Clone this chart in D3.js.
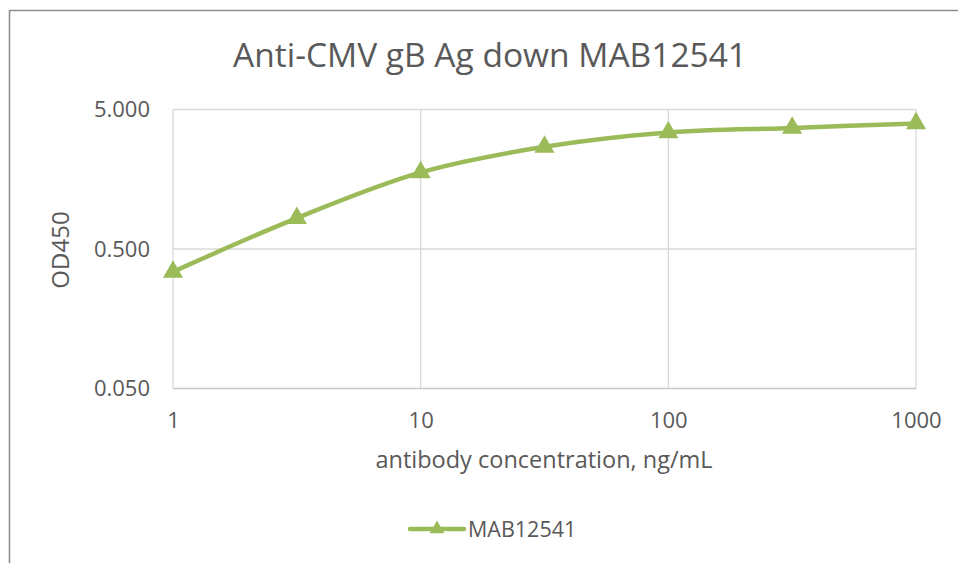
<!DOCTYPE html>
<html>
<head>
<meta charset="utf-8">
<script src="https://cdn.jsdelivr.net/npm/d3@7"></script>
<style>
  body { margin: 0; background: #fff; }
  text { font-family: "Open Sans", sans-serif; fill: #595959; }
</style>
</head>
<body>
<svg id="chart" width="958" height="563"></svg>
<script>
// data
var concentrations = [1, 3.162, 10, 31.62, 100, 316.2, 1000];
var od450 = [0.343, 0.833, 1.77, 2.70, 3.42, 3.69, 3.97];
var seriesName = "MAB12541";
var xTicks = [1, 10, 100, 1000];
var yTicks = [0.05, 0.5, 5];

var svg = d3.select("#chart"),
    margin = { top: 109.5, right: 42, bottom: 174.5, left: 173 },
    width = +svg.attr("width") - margin.left - margin.right,
    height = +svg.attr("height") - margin.top - margin.bottom;

var color = "#9bbb59";

// chart frame (runs off the right and bottom edges)
svg.append("path")
    .attr("d", "M9.5,563V10.5H958")
    .attr("fill", "none")
    .attr("stroke", "#8f8f8f")
    .attr("stroke-width", 1.6);

svg.append("text")
    .attr("x", 490)
    .attr("y", 67)
    .attr("text-anchor", "middle")
    .attr("font-size", "33.5px")
    .text("Anti-CMV gB Ag down MAB12541");

var xScale = d3.scaleLog().domain([1, 1000]).range([0, width]),
    yScale = d3.scaleLog().domain([0.05, 5]).range([height, 0]);

var g = svg.append("g")
    .attr("transform", "translate(" + margin.left + "," + margin.top + ")");

// gridlines
g.append("g")
    .selectAll("line.v")
    .data(xTicks)
    .enter().append("line")
    .attr("x1", d => xScale(d)).attr("x2", d => xScale(d))
    .attr("y1", 0).attr("y2", height)
    .attr("stroke", "#d9d9d9")
    .attr("stroke-width", 1.3);

g.append("g")
    .selectAll("line.h")
    .data(yTicks)
    .enter().append("line")
    .attr("x1", 0).attr("x2", width)
    .attr("y1", d => yScale(d)).attr("y2", d => yScale(d))
    .attr("stroke", d => d === 0.05 ? "#c8c8c8" : "#d9d9d9")
    .attr("stroke-width", 1.3);

// axis labels
g.append("g")
    .attr("transform", "translate(0," + height + ")")
    .call(d3.axisBottom(xScale).tickValues(xTicks).tickFormat(d3.format("d")).tickSize(0).tickPadding(24))
    .call(a => a.select(".domain").remove())
    .selectAll("text")
    .attr("font-size", "22px")
    .attr("font-family", "Open Sans, sans-serif")
    .style("fill", "#595959");

g.append("g")
    .call(d3.axisLeft(yScale).tickValues(yTicks).tickFormat(d3.format(".3f")).tickSize(0).tickPadding(23))
    .call(a => a.select(".domain").remove())
    .selectAll("text")
    .attr("font-size", "22px")
    .attr("font-family", "Open Sans, sans-serif")
    .style("fill", "#595959");

svg.append("text")
    .attr("x", 544)
    .attr("y", 468)
    .attr("text-anchor", "middle")
    .attr("font-size", "23.5px")
    .text("antibody concentration, ng/mL");

svg.append("text")
    .attr("transform", "translate(69,250) rotate(-90)")
    .attr("text-anchor", "middle")
    .attr("font-size", "24px")
    .text("OD450");

// the series
var points = concentrations.map((c, i) => [c, od450[i]]);

var line = d3.line()
    .x(d => xScale(d[0]))
    .y(d => yScale(d[1]))
    .curve(d3.curveCatmullRom.alpha(0));

g.append("path")
    .datum(points)
    .attr("fill", "none")
    .attr("stroke", color)
    .attr("stroke-width", 4.5)
    .attr("stroke-linecap", "round")
    .attr("d", line);

var tri = d3.symbol().type(d3.symbolTriangle).size(175);

g.selectAll(".pt")
    .data(points)
    .enter().append("path")
    .attr("class", "pt")
    .attr("transform", d => "translate(" + xScale(d[0]) + "," + yScale(d[1]) + ")")
    .attr("d", tri)
    .attr("fill", color);

// legend
var lg = svg.append("g").attr("transform", "translate(0,529)");
lg.append("line")
    .attr("x1", 410).attr("x2", 464)
    .attr("stroke", color)
    .attr("stroke-width", 4.5)
    .attr("stroke-linecap", "round");
lg.append("path")
    .attr("transform", "translate(437,0)")
    .attr("d", d3.symbol().type(d3.symbolTriangle).size(95))
    .attr("fill", color);
lg.append("text")
    .attr("x", 468)
    .attr("y", 8)
    .attr("font-size", "21.5px")
    .text(seriesName);
</script>
</body>
</html>
